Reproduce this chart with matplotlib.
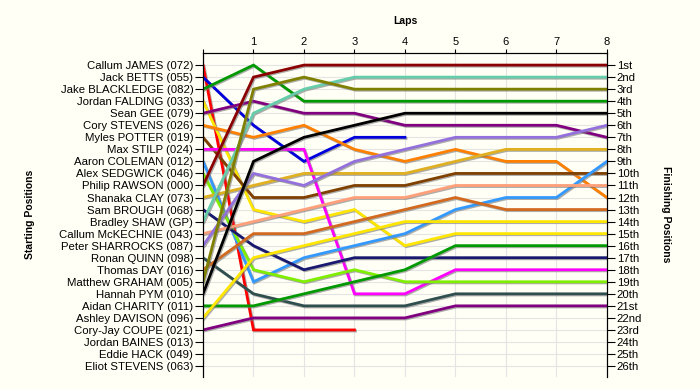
import matplotlib
matplotlib.use("Agg")
import matplotlib.pyplot as plt
import matplotlib.patheffects as pe

# DATA
drivers = ["Callum JAMES (072)", "Jack BETTS (055)", "Jake BLACKLEDGE (082)",
           "Jordan FALDING (033)", "Sean GEE (079)", "Cory STEVENS (026)",
           "Myles POTTER (019)", "Max STILP (024)", "Aaron COLEMAN (012)",
           "Alex SEDGWICK (046)", "Philip RAWSON (000)", "Shanaka CLAY (073)",
           "Sam BROUGH (068)", "Bradley SHAW (GP)", "Callum McKECHNIE (043)",
           "Peter SHARROCKS (087)", "Ronan QUINN (098)", "Thomas DAY (016)",
           "Matthew GRAHAM (005)", "Hannah PYM (010)", "Aidan CHARITY (011)",
           "Ashley DAVISON (096)", "Cory-Jay COUPE (021)", "Jordan BAINES (013)",
           "Eddie HACK (049)", "Eliot STEVENS (063)"]

finish_labels = ["1st", "2nd", "3rd", "4th", "5th", "6th", "7th", "8th", "9th",
                 "10th", "11th", "12th", "13th", "14th", "15th", "16th", "17th",
                 "18th", "19th", "20th", "21st", "22nd", "23rd", "24th", "25th", "26th"]

# position after each lap (lap 0 = grid)
laps = {
    "Callum JAMES (072)":     [1, 23, 23, 23],
    "Jack BETTS (055)":       [2, 6, 9, 7, 7],
    "Jake BLACKLEDGE (082)":  [3, 1, 4, 4, 4, 4, 4, 4, 4],
    "Jordan FALDING (033)":   [4, 13, 14, 13, 16, 15, 15, 15, 15],
    "Sean GEE (079)":         [5, 4, 5, 5, 6, 6, 6, 6, 7],
    "Cory STEVENS (026)":     [6, 7, 6, 8, 9, 8, 9, 9, 12],
    "Myles POTTER (019)":     [7, 12, 12, 11, 11, 10, 10, 10, 10],
    "Max STILP (024)":        [8, 8, 8, 20, 20, 18, 18, 18, 18],
    "Aaron COLEMAN (012)":    [9, 19, 17, 16, 15, 13, 12, 12, 9],
    "Alex SEDGWICK (046)":    [10, 18, 19, 18, 19, 19, 19, 19, 19],
    "Philip RAWSON (000)":    [11, 2, 1, 1, 1, 1, 1, 1, 1],
    "Shanaka CLAY (073)":     [12, 11, 10, 10, 10, 9, 8, 8, 8],
    "Sam BROUGH (068)":       [13, 16, 18, 17, 17, 17, 17, 17, 17],
    "Bradley SHAW (GP)":      [14, 5, 3, 2, 2, 2, 2, 2, 2],
    "Callum McKECHNIE (043)": [15, 14, 13, 12, 12, 11, 11, 11, 11],
    "Peter SHARROCKS (087)":  [16, 10, 11, 9, 8, 7, 7, 7, 6],
    "Ronan QUINN (098)":      [17, 20, 21, 21, 21, 20, 20, 20, 20],
    "Thomas DAY (016)":       [18, 15, 15, 14, 13, 12, 13, 13, 13],
    "Matthew GRAHAM (005)":   [19, 3, 2, 3, 3, 3, 3, 3, 3],
    "Hannah PYM (010)":       [20, 9, 7, 6, 5, 5, 5, 5, 5],
    "Aidan CHARITY (011)":    [21, 21, 20, 19, 18, 16, 16, 16, 16],
    "Ashley DAVISON (096)":   [22, 17, 16, 15, 14, 14, 14, 14, 14],
    "Cory-Jay COUPE (021)":   [23, 22, 22, 22, 22, 21, 21, 21, 21],
}

colours = {
    "Callum JAMES (072)": "#FF0000",
    "Jack BETTS (055)": "#0000DD",
    "Jake BLACKLEDGE (082)": "#009900",
    "Jordan FALDING (033)": "#FFE600",
    "Sean GEE (079)": "#800080",
    "Cory STEVENS (026)": "#FF8000",
    "Myles POTTER (019)": "#804000",
    "Max STILP (024)": "#FF00FF",
    "Aaron COLEMAN (012)": "#3399FF",
    "Alex SEDGWICK (046)": "#80EE00",
    "Philip RAWSON (000)": "#8B0000",
    "Shanaka CLAY (073)": "#E0B020",
    "Sam BROUGH (068)": "#191970",
    "Bradley SHAW (GP)": "#66CDAA",
    "Callum McKECHNIE (043)": "#FFA07A",
    "Peter SHARROCKS (087)": "#9370DB",
    "Ronan QUINN (098)": "#2F4F4F",
    "Thomas DAY (016)": "#D2691E",
    "Matthew GRAHAM (005)": "#808000",
    "Hannah PYM (010)": "#000000",
    "Aidan CHARITY (011)": "#009900",
    "Ashley DAVISON (096)": "#FFE600",
    "Cory-Jay COUPE (021)": "#800080",
}

n_laps = 8
bg = "#FFFFF5"

plt.rcParams['font.family'] = ['Liberation Sans', 'DejaVu Sans']

fig = plt.figure(figsize=(7, 3.9), dpi=100, facecolor=bg)
ax = fig.add_axes([0.29, 0.033, 0.577, 0.831], facecolor=bg)

shadow = [pe.SimpleLineShadow(offset=(0.8, -0.8), shadow_color="#777777", alpha=0.6), pe.Normal()]
for name in drivers:
    if name not in laps:
        continue
    pos = laps[name]
    ax.plot(range(len(pos)), pos, color=colours[name], lw=2.0,
            solid_joinstyle='miter', path_effects=shadow, zorder=3)

ax.set_xlim(0, n_laps)
ax.set_ylim(26.92, 0)

ax.xaxis.tick_top()
ax.set_xticks(range(n_laps + 1))
ax.set_xticklabels([""] + [str(i) for i in range(1, n_laps + 1)], fontsize=8)
ax.tick_params(axis='x', direction='out', length=3, pad=1)
ax.set_xlabel("Laps", fontsize=7.5, fontweight='bold', labelpad=10)
ax.xaxis.set_label_position('top')

ax.set_yticks(range(1, len(drivers) + 1))
ax.set_yticklabels(drivers, fontsize=8.2)
ax.tick_params(axis='y', direction='out', length=6, pad=1)

ax.grid(True, color="#E4E4E4", lw=0.8, zorder=0)
ax.spines['bottom'].set_visible(False)

ax2 = ax.twinx()
ax2.set_ylim(26.92, 0)
ax2.set_yticks(range(1, len(finish_labels) + 1))
ax2.set_yticklabels(finish_labels, fontsize=8.2)
ax2.tick_params(axis='y', direction='out', length=6, pad=1)
ax2.spines['bottom'].set_visible(False)

fig.text(30 / 700, 0.45, "Starting Positions", fontsize=7.5, fontweight='bold',
         rotation=90, ha='center', va='center')
fig.text(666 / 700, 0.45, "Finishing Positions", fontsize=7.5, fontweight='bold',
         rotation=-90, ha='center', va='center')

fig.savefig("out.png", dpi=100, facecolor=bg)
